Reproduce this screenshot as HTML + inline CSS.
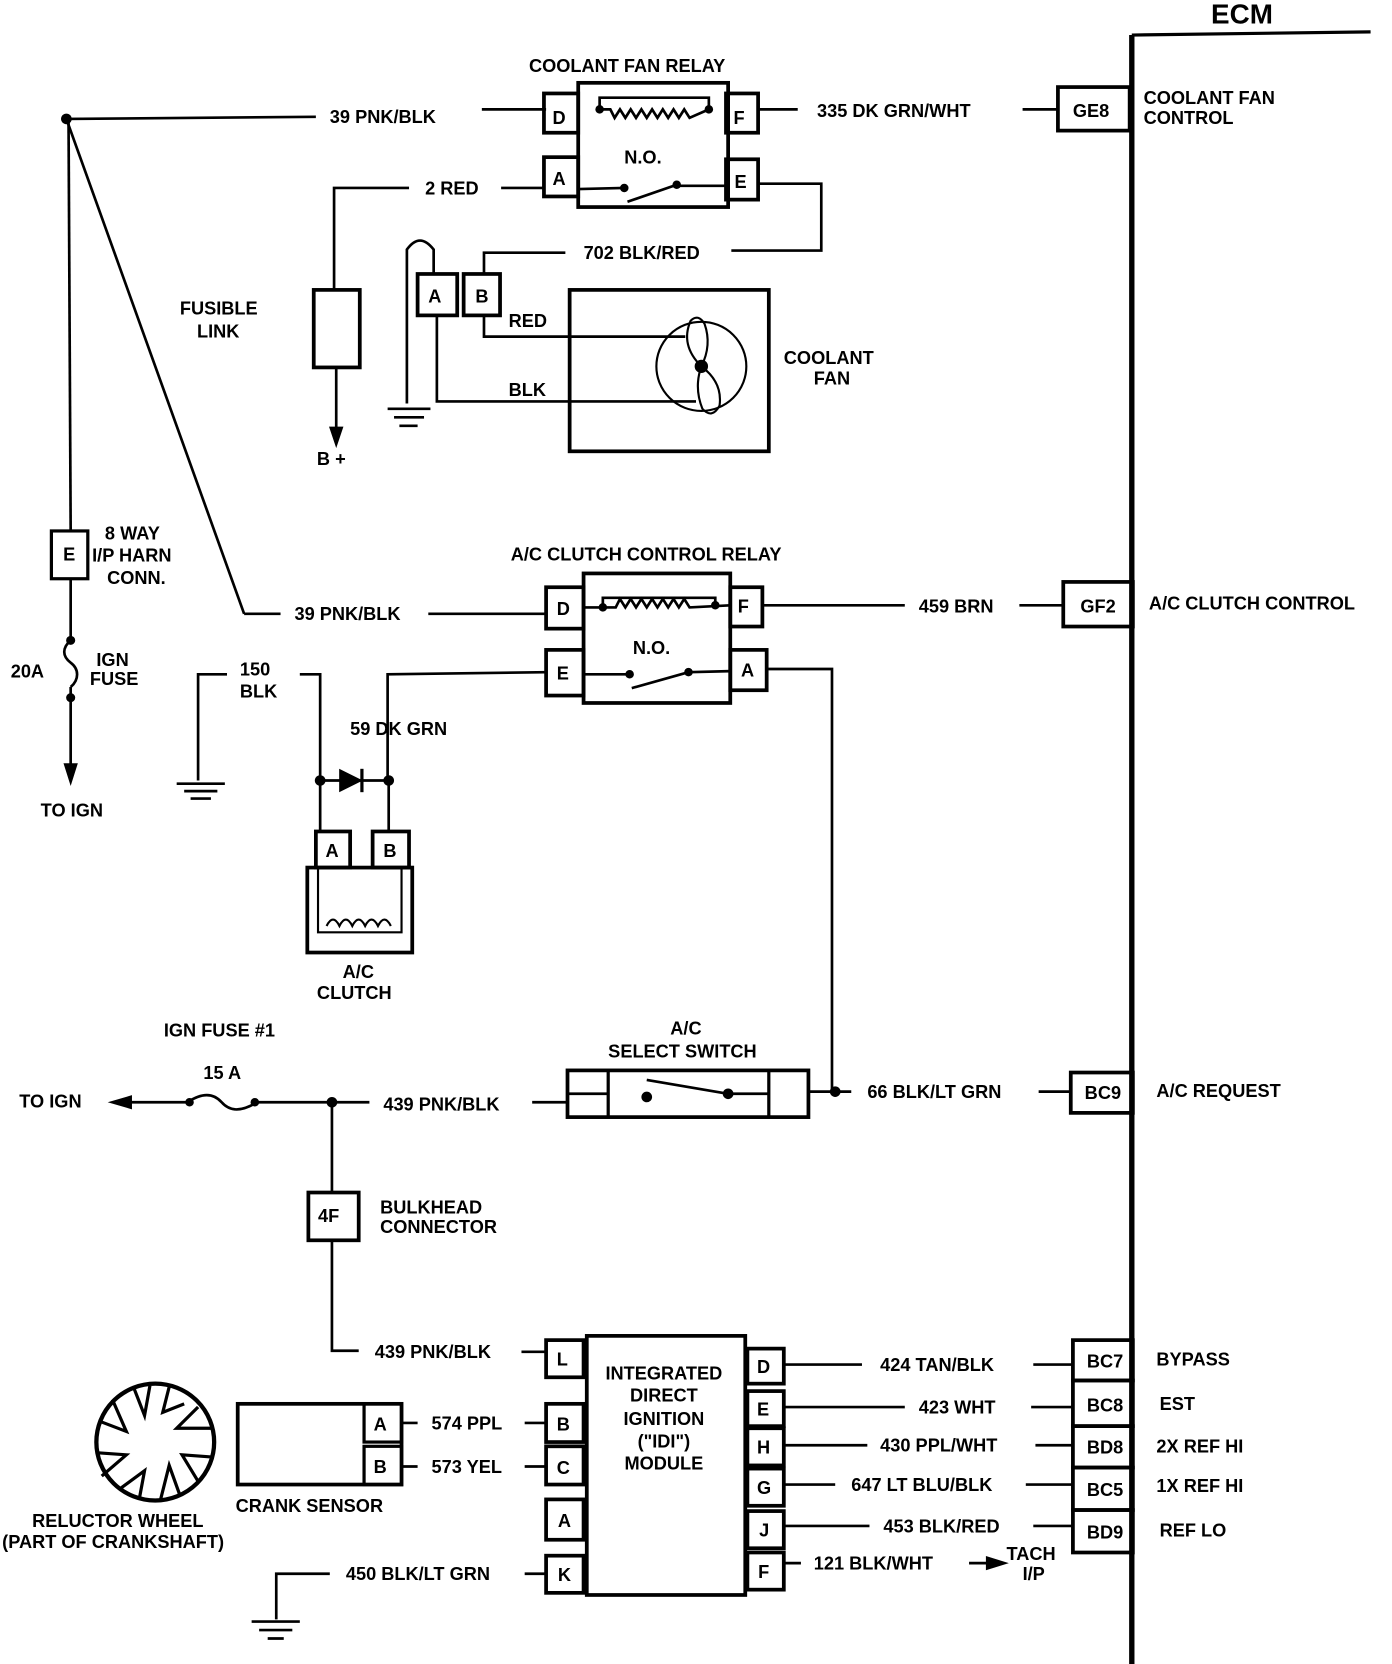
<!DOCTYPE html>
<html><head><meta charset="utf-8"><style>
html,body{margin:0;padding:0;background:#fff;}
svg{display:block;}
text{font-family:"Liberation Sans",sans-serif;font-weight:bold;font-size:17px;fill:#000;}
</style></head><body>
<svg width="1392" height="1664" viewBox="0 0 1300 1567" preserveAspectRatio="none" xmlns="http://www.w3.org/2000/svg">
<g fill="none" stroke="#000" stroke-width="2.5">
<line x1="1057" y1="33" x2="1280" y2="30" stroke-width="3"/>
<line x1="1057" y1="33" x2="1057" y2="1567" stroke-width="5"/>
<line x1="62" y1="112" x2="295" y2="110"/>
<line x1="450" y1="103" x2="510" y2="103"/>
<line x1="62" y1="112" x2="228" y2="578"/>
<line x1="228" y1="578" x2="262" y2="578"/>
<line x1="400" y1="578" x2="510" y2="578"/>
<line x1="64" y1="112" x2="66" y2="500"/>
<rect x="48" y="500" width="34" height="45" stroke-width="3"/>
<line x1="66" y1="545" x2="66" y2="603"/>
<path d="M66 603 C58 610,58 618,66 624 C74 630,74 640,66 647"/>
<circle cx="66" cy="603" r="3" fill="#000"/><circle cx="66" cy="657" r="3" fill="#000"/>
<line x1="66" y1="647" x2="66" y2="722"/>
<polygon points="61,720 71,720 66,736" fill="#000"/>
<rect x="540" y="78" width="140" height="117" stroke-width="3.5"/>
<rect x="508" y="88" width="32" height="37" stroke-width="3.5"/>
<rect x="678" y="88" width="30" height="37" stroke-width="3.5"/>
<rect x="508" y="148" width="32" height="37" stroke-width="3.5"/>
<rect x="678" y="150" width="30" height="38" stroke-width="3.5"/>
<path d="M560 103 L560 92 L662 92 L662 103"/>
<path d="M560 103 L570 103 l4 8 l5 -8 l5 8 l5 -8 l5 8 l5 -8 l5 8 l5 -8 l5 8 l5 -8 l5 8 l5 -8 l5 8 l5 -8 l5 8 L662 103"/>
<line x1="540" y1="178" x2="583" y2="177"/>
<line x1="586" y1="190" x2="632" y2="174"/>
<line x1="632" y1="175" x2="680" y2="175"/>
<line x1="708" y1="103" x2="745" y2="103"/>
<line x1="955" y1="103" x2="988" y2="103"/>
<rect x="988" y="82" width="67" height="41" stroke-width="3.5"/>
<line x1="468" y1="177" x2="508" y2="177"/>
<polyline points="382,177 312,177 312,273"/>
<rect x="293" y="273" width="43" height="73" stroke-width="3.5"/>
<line x1="314" y1="346" x2="314" y2="405"/>
<polygon points="309,403 319,403 314,418" fill="#000"/>
<polyline points="708,173 767,173 767,236 683,236"/>
<polyline points="528,238 452,238 452,258"/>
<rect x="390" y="258" width="37" height="39" stroke-width="3.5"/>
<rect x="433" y="258" width="34" height="39" stroke-width="3.5"/>
<path d="M380 380 L380 235 Q392 218 405 235 L405 258"/>
<line x1="362" y1="385" x2="402" y2="385"/><line x1="368" y1="393" x2="396" y2="393"/><line x1="373" y1="401" x2="390" y2="401"/>
<polyline points="408,297 408,378 650,378"/>
<polyline points="452,297 452,317 640,317"/>
<rect x="532" y="273" width="186" height="152" stroke-width="3.5"/>
<circle cx="655" cy="345" r="42" stroke-width="2"/>
<path d="M655 345 Q635 325 645 302 Q652 295 658 305 Q665 325 655 345Z" stroke-width="2"/>
<path d="M655 345 Q675 360 672 382 Q665 395 656 385 Q648 365 655 345Z" stroke-width="2"/>
<circle cx="655" cy="345" r="5" fill="#000"/>
<rect x="545" y="540" width="137" height="122" stroke-width="3.5"/>
<rect x="510" y="553" width="35" height="39" stroke-width="3.5"/>
<rect x="682" y="553" width="30" height="37" stroke-width="3.5"/>
<rect x="510" y="612" width="35" height="43" stroke-width="3.5"/>
<rect x="682" y="612" width="34" height="38" stroke-width="3.5"/>
<path d="M563 572 L563 563 L668 563 L668 570"/>
<path d="M545 572 L575 572 l4 -8 l5 8 l5 -8 l5 8 l5 -8 l5 8 l5 -8 l5 8 l5 -8 l5 8 l5 -8 l5 8 l5 -8 l5 8 L682 570"/>
<line x1="545" y1="635" x2="588" y2="635"/>
<line x1="590" y1="648" x2="643" y2="633"/>
<line x1="643" y1="633" x2="682" y2="632"/>
<line x1="712" y1="570" x2="845" y2="570"/>
<line x1="952" y1="570" x2="993" y2="570"/>
<rect x="993" y="548" width="65" height="42" stroke-width="3.5"/>
<polyline points="510,633 362,635 362,735"/>
<polyline points="212,635 185,635 185,735"/>
<line x1="165" y1="738" x2="210" y2="738"/><line x1="172" y1="745" x2="203" y2="745"/><line x1="178" y1="752" x2="197" y2="752"/>
<polyline points="280,635 299,635 299,783"/>
<line x1="299" y1="735" x2="363" y2="735"/>
<line x1="363" y1="735" x2="363" y2="783"/>
<polygon points="318,726 318,744 336,735" fill="#000"/>
<line x1="338" y1="724" x2="338" y2="746" stroke-width="3"/>
<rect x="295" y="783" width="32" height="34" stroke-width="3.5"/>
<rect x="348" y="783" width="34" height="34" stroke-width="3.5"/>
<rect x="287" y="817" width="98" height="80" stroke-width="3.5"/>
<path d="M297 817 L297 878 L375 878 L375 817" stroke-width="2"/>
<path d="M305 872 q6 -12 12 0 q6 -12 12 0 q6 -12 12 0 q6 -12 12 0 q6 -12 12 0" stroke-width="2"/>
<polyline points="716,630 777,630 777,1028"/>
<rect x="530" y="1008" width="225" height="44" stroke-width="3.5"/>
<line x1="568" y1="1008" x2="568" y2="1052" stroke-width="3"/>
<line x1="718" y1="1008" x2="718" y2="1052" stroke-width="3"/>
<line x1="530" y1="1030" x2="568" y2="1030"/>
<line x1="604" y1="1017" x2="680" y2="1030"/>
<line x1="680" y1="1030" x2="718" y2="1030"/>
<line x1="755" y1="1028" x2="795" y2="1028"/>
<line x1="970" y1="1028" x2="1000" y2="1028"/>
<rect x="1000" y="1010" width="58" height="38" stroke-width="3.5"/>
<line x1="115" y1="1038" x2="175" y2="1038"/>
<polygon points="105,1038 122,1033 122,1043" fill="#000"/>
<path d="M175 1038 C190 1028,200 1030,207 1038 C214 1046,224 1048,240 1038"/>
<line x1="240" y1="1038" x2="345" y2="1038"/>
<line x1="497" y1="1038" x2="530" y2="1038"/>
<polyline points="310,1038 310,1123"/>
<rect x="288" y="1123" width="47" height="45" stroke-width="3.5"/>
<polyline points="310,1168 310,1272 335,1272"/>
<line x1="487" y1="1273" x2="510" y2="1273"/>
<rect x="548" y="1258" width="148" height="244" stroke-width="3.5"/>
<rect x="510" y="1262" width="35" height="35" stroke-width="3.5"/>
<rect x="510" y="1322" width="35" height="36" stroke-width="3.5"/>
<rect x="510" y="1362" width="35" height="36" stroke-width="3.5"/>
<rect x="510" y="1412" width="35" height="38" stroke-width="3.5"/>
<rect x="510" y="1465" width="35" height="35" stroke-width="3.5"/>
<rect x="698" y="1270" width="34" height="33" stroke-width="3.5"/>
<rect x="698" y="1310" width="34" height="33" stroke-width="3.5"/>
<rect x="698" y="1345" width="34" height="35" stroke-width="3.5"/>
<rect x="698" y="1383" width="34" height="35" stroke-width="3.5"/>
<rect x="698" y="1423" width="34" height="35" stroke-width="3.5"/>
<rect x="698" y="1462" width="34" height="35" stroke-width="3.5"/>
<line x1="732" y1="1285" x2="805" y2="1285"/><line x1="965" y1="1285" x2="1002" y2="1285"/>
<line x1="732" y1="1325" x2="845" y2="1325"/><line x1="963" y1="1325" x2="1002" y2="1325"/>
<line x1="732" y1="1361" x2="810" y2="1361"/><line x1="967" y1="1361" x2="1002" y2="1361"/>
<line x1="732" y1="1398" x2="780" y2="1398"/><line x1="958" y1="1398" x2="1002" y2="1398"/>
<line x1="732" y1="1437" x2="812" y2="1437"/><line x1="965" y1="1437" x2="1002" y2="1437"/>
<line x1="732" y1="1472" x2="748" y2="1472"/>
<line x1="905" y1="1472" x2="925" y2="1472"/>
<polygon points="938,1472 922,1467 922,1477" fill="#000"/>
<rect x="1002" y="1262" width="56" height="38" stroke-width="3.5"/>
<rect x="1002" y="1300" width="56" height="43" stroke-width="3.5"/>
<rect x="1002" y="1343" width="56" height="39" stroke-width="3.5"/>
<rect x="1002" y="1382" width="56" height="40" stroke-width="3.5"/>
<rect x="1002" y="1422" width="56" height="40" stroke-width="3.5"/>
<rect x="222" y="1322" width="153" height="76" stroke-width="3.5"/>
<rect x="340" y="1322" width="35" height="36" stroke-width="3"/>
<rect x="340" y="1362" width="35" height="36" stroke-width="3"/>
<line x1="375" y1="1340" x2="390" y2="1340"/><line x1="490" y1="1340" x2="510" y2="1340"/>
<line x1="375" y1="1381" x2="390" y2="1381"/><line x1="490" y1="1381" x2="510" y2="1381"/>
<circle cx="145" cy="1358" r="55" stroke-width="4"/>
<g stroke-width="3">
<path d="M125 1307 L135 1333 L140 1305"/><path d="M158 1306 L152 1330 L172 1322"/><path d="M185 1325 L165 1345 L198 1345"/>
<path d="M197 1372 L170 1370 L185 1395"/><path d="M168 1408 L158 1380 L150 1412"/><path d="M130 1412 L135 1385 L112 1402"/>
<path d="M95 1390 L118 1370 L90 1368"/><path d="M92 1338 L118 1348 L105 1318"/>
</g>
<polyline points="490,1482 510,1482"/>
<polyline points="308,1482 258,1482 258,1525"/>
<line x1="235" y1="1527" x2="280" y2="1527"/><line x1="242" y1="1535" x2="273" y2="1535"/><line x1="250" y1="1543" x2="265" y2="1543"/>
</g>
<g fill="#000">
<circle cx="62" cy="112" r="5"/>
<circle cx="560" cy="103" r="4"/><circle cx="662" cy="103" r="4"/>
<circle cx="583" cy="177" r="4"/><circle cx="632" cy="174" r="4"/>
<circle cx="563" cy="572" r="4"/><circle cx="668" cy="570" r="4"/>
<circle cx="588" cy="635" r="4"/><circle cx="643" cy="633" r="4"/>
<circle cx="299" cy="735" r="5"/><circle cx="363" cy="735" r="5"/>
<circle cx="604" cy="1033" r="5"/><circle cx="680" cy="1030" r="5"/>
<circle cx="780" cy="1028" r="5"/><circle cx="310" cy="1038" r="5"/>
<circle cx="177" cy="1038" r="4"/><circle cx="238" cy="1038" r="4"/>
</g>
<text x="1131" y="22" style="font-size:26px">ECM</text>
<text x="494" y="68">COOLANT  FAN RELAY</text>
<text x="308" y="116">39 PNK/BLK</text>
<text x="516" y="117">D</text><text x="685" y="117">F</text>
<text x="516" y="174">A</text><text x="686" y="177">E</text>
<text x="583" y="154">N.O.</text>
<text x="763" y="110">335 DK GRN/WHT</text>
<text x="1002" y="110">GE8</text>
<text x="1068" y="98">COOLANT FAN</text><text x="1068" y="117">CONTROL</text>
<text x="397" y="183">2 RED</text>
<text x="545" y="244">702 BLK/RED</text>
<text x="400" y="285">A</text><text x="444" y="285">B</text>
<text x="475" y="308">RED</text><text x="475" y="373">BLK</text>
<text x="168" y="296">FUSIBLE</text><text x="184" y="318">LINK</text>
<text x="732" y="343">COOLANT</text><text x="760" y="362">FAN</text>
<text x="296" y="438">B +</text>
<text x="98" y="508">8 WAY</text><text x="86" y="529">I/P HARN</text><text x="100" y="550">CONN.</text>
<text x="59" y="528">E</text>
<text x="477" y="528">A/C CLUTCH CONTROL RELAY</text>
<text x="275" y="584">39 PNK/BLK</text>
<text x="520" y="579">D</text><text x="689" y="577">F</text>
<text x="520" y="640">E</text><text x="692" y="637">A</text>
<text x="591" y="616">N.O.</text>
<text x="858" y="577">459 BRN</text>
<text x="1009" y="577">GF2</text>
<text x="1073" y="574">A/C CLUTCH CONTROL</text>
<text x="10" y="638">20A</text>
<text x="90" y="627">IGN</text><text x="84" y="645">FUSE</text>
<text x="224" y="636">150</text><text x="224" y="657">BLK</text>
<text x="327" y="692">59 DK GRN</text>
<text x="38" y="769">TO IGN</text>
<text x="304" y="807">A</text><text x="358" y="807">B</text>
<text x="320" y="921">A/C</text><text x="296" y="941">CLUTCH</text>
<text x="153" y="976">IGN FUSE #1</text>
<text x="626" y="974">A/C</text><text x="568" y="996">SELECT SWITCH</text>
<text x="190" y="1016">15 A</text>
<text x="18" y="1043">TO IGN</text>
<text x="358" y="1046">439 PNK/BLK</text>
<text x="810" y="1034">66  BLK/LT GRN</text>
<text x="1013" y="1035">BC9</text>
<text x="1080" y="1033">A/C REQUEST</text>
<text x="297" y="1151">4F</text>
<text x="355" y="1143">BULKHEAD</text><text x="355" y="1161">CONNECTOR</text>
<text x="350" y="1279">439 PNK/BLK</text>
<text x="520" y="1286">L</text><text x="520" y="1347">B</text><text x="520" y="1388">C</text>
<text x="521" y="1438">A</text><text x="521" y="1489">K</text>
<text x="707" y="1293">D</text><text x="707" y="1333">E</text><text x="707" y="1369">H</text>
<text x="707" y="1407">G</text><text x="709" y="1447">J</text><text x="708" y="1486">F</text>
<text x="620" y="1299" text-anchor="middle">INTEGRATED</text>
<text x="620" y="1320" text-anchor="middle">DIRECT</text>
<text x="620" y="1342" text-anchor="middle">IGNITION</text>
<text x="620" y="1363" text-anchor="middle">("IDI")</text>
<text x="620" y="1384" text-anchor="middle">MODULE</text>
<text x="822" y="1291">424 TAN/BLK</text>
<text x="858" y="1331">423 WHT</text>
<text x="822" y="1367">430 PPL/WHT</text>
<text x="795" y="1404">647 LT BLU/BLK</text>
<text x="825" y="1443">453 BLK/RED</text>
<text x="760" y="1478">121 BLK/WHT</text>
<text x="940" y="1469">TACH</text><text x="955" y="1488">I/P</text>
<text x="1015" y="1288">BC7</text><text x="1015" y="1329">BC8</text><text x="1015" y="1369">BD8</text>
<text x="1015" y="1409">BC5</text><text x="1015" y="1449">BD9</text>
<text x="1080" y="1286">BYPASS</text><text x="1083" y="1328">EST</text>
<text x="1080" y="1368">2X REF HI</text><text x="1080" y="1405">1X REF HI</text>
<text x="1083" y="1447">REF LO</text>
<text x="349" y="1347">A</text><text x="349" y="1387">B</text>
<text x="403" y="1346">574 PPL</text><text x="403" y="1387">573 YEL</text>
<text x="220" y="1424">CRANK SENSOR</text>
<text x="30" y="1438">RELUCTOR WHEEL</text>
<text x="2" y="1458">(PART OF CRANKSHAFT)</text>
<text x="323" y="1488">450 BLK/LT GRN</text>
</svg>
</body></html>
